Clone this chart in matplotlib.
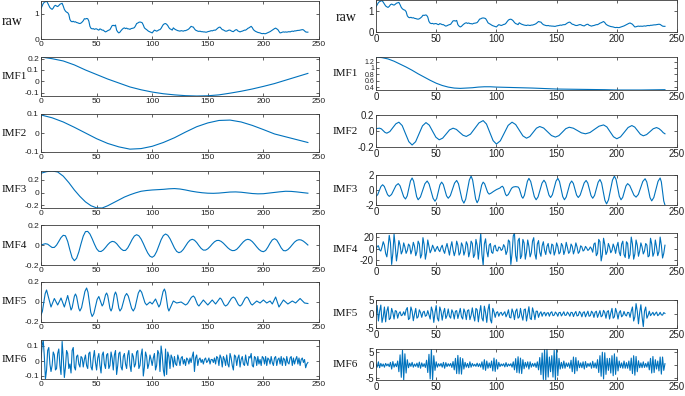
import matplotlib
matplotlib.use("Agg")
import matplotlib.pyplot as plt

# ---------------- data ----------------
raw = [1.20, 1.30, 1.40, 1.45, 1.47, 1.50, 1.42, 1.33, 1.24, 1.20,
       1.17, 1.22, 1.30, 1.33, 1.30, 1.28, 1.32, 1.37, 1.39, 1.41,
       1.30, 1.17, 1.10, 1.06, 1.04, 0.97, 0.77, 0.70, 0.68, 0.70,
       0.67, 0.68, 0.65, 0.64, 0.62, 0.61, 0.63, 0.67, 0.72, 0.80,
       0.79, 0.81, 0.80, 0.71, 0.50, 0.42, 0.40, 0.41, 0.38, 0.40,
       0.40, 0.37, 0.35, 0.40, 0.38, 0.35, 0.35, 0.31, 0.28, 0.30,
       0.33, 0.35, 0.37, 0.45, 0.53, 0.54, 0.52, 0.55, 0.35, 0.28,
       0.24, 0.27, 0.33, 0.38, 0.42, 0.44, 0.41, 0.43, 0.40, 0.40,
       0.38, 0.41, 0.42, 0.43, 0.45, 0.52, 0.61, 0.63, 0.66, 0.67,
       0.66, 0.64, 0.55, 0.44, 0.40, 0.37, 0.33, 0.30, 0.28, 0.26,
       0.24, 0.30, 0.35, 0.33, 0.31, 0.33, 0.36, 0.37, 0.42, 0.50,
       0.57, 0.60, 0.61, 0.58, 0.53, 0.45, 0.40, 0.38, 0.35, 0.44,
       0.40, 0.37, 0.35, 0.33, 0.32, 0.31, 0.33, 0.32, 0.31, 0.33,
       0.33, 0.35, 0.37, 0.40, 0.45, 0.50, 0.48, 0.47, 0.40, 0.35,
       0.33, 0.31, 0.30, 0.31, 0.29, 0.29, 0.28, 0.28, 0.27, 0.27,
       0.29, 0.30, 0.31, 0.33, 0.32, 0.34, 0.35, 0.35, 0.39, 0.43,
       0.46, 0.47, 0.42, 0.37, 0.36, 0.33, 0.31, 0.31, 0.33, 0.35,
       0.35, 0.32, 0.30, 0.29, 0.33, 0.36, 0.37, 0.32, 0.30, 0.28,
       0.30, 0.31, 0.33, 0.35, 0.35, 0.38, 0.42, 0.44, 0.47, 0.50,
       0.45, 0.37, 0.33, 0.30, 0.28, 0.26, 0.25, 0.24, 0.22, 0.21,
       0.22, 0.21, 0.21, 0.23, 0.25, 0.27, 0.29, 0.32, 0.35, 0.38,
       0.41, 0.43, 0.40, 0.37, 0.30, 0.24, 0.25, 0.27, 0.28, 0.27,
       0.28, 0.27, 0.28, 0.29, 0.28, 0.30, 0.31, 0.30, 0.32, 0.32,
       0.33, 0.34, 0.34, 0.35, 0.36, 0.37, 0.36, 0.32, 0.28, 0.27,
       0.27]

# left column (first decomposition)
L_imf1_x = [0, 10, 20, 30, 40, 50, 60, 70, 80, 90, 100, 110, 120, 130, 140,
            150, 160, 170, 180, 190, 200, 210, 220, 230, 240]
L_imf1 = [0.215, 0.20, 0.18, 0.145, 0.10, 0.06, 0.02, -0.015, -0.05, -0.075,
          -0.095, -0.11, -0.12, -0.127, -0.13, -0.128, -0.12, -0.105, -0.088,
          -0.068, -0.045, -0.02, 0.01, 0.04, 0.07]

L_imf2_x = [0, 10, 20, 30, 40, 50, 60, 70, 80, 90, 100, 110, 120, 130, 140,
            150, 160, 170, 180, 190, 200, 210, 220, 230, 240]
L_imf2 = [0.095, 0.08, 0.058, 0.03, 0.0, -0.03, -0.055, -0.073, -0.085, -0.082,
          -0.07, -0.05, -0.025, 0.005, 0.033, 0.053, 0.066, 0.068, 0.058, 0.04,
          0.018, -0.005, -0.02, -0.035, -0.05]

L_imf3_x = list(range(0, 241, 5))
L_imf3 = [0.30, 0.325, 0.335, 0.32, 0.255, 0.155, 0.04, -0.06, -0.145, -0.205,
          -0.238, -0.24, -0.205, -0.16, -0.115, -0.07, -0.035, -0.005, 0.02, 0.032,
          0.04, 0.045, 0.05, 0.058, 0.062, 0.055, 0.04, 0.022, 0.008, -0.003,
          -0.01, -0.012, -0.008, 0.0, 0.008, 0.01, 0.005, -0.005, -0.015, -0.02,
          -0.018, -0.008, 0.002, 0.012, 0.02, 0.018, 0.01, 0.0, -0.01]

L_imf4_x = list(range(0, 241, 2))
L_imf4 = [0.0, 0.007, 0.013, 0.008, -0.009, -0.025, -0.024, -0.001, 0.036, 0.074, 0.097,
          0.092, 0.036, -0.05, -0.127, -0.157,
          -0.133, -0.07, 0.013, 0.089, 0.134,
          0.136, 0.11, 0.063, 0.01, -0.037, -0.063,
          -0.065, -0.05, -0.025, 0.003, 0.025, 0.036,
          0.032, 0.014, -0.014, -0.039, -0.055,
          -0.054, -0.029, 0.012, 0.056, 0.09, 0.103,
          0.092, 0.06, 0.015, -0.035, -0.08, -0.112, -0.123,
          -0.107, -0.065, -0.007, 0.052, 0.094, 0.11,
          0.097, 0.063, 0.017, -0.03, -0.064, -0.077,
          -0.068, -0.044, -0.01, 0.024, 0.048, 0.057,
          0.048, 0.025, -0.006, -0.034, -0.051,
          -0.051, -0.038, -0.016, 0.01, 0.032, 0.045,
          0.046, 0.036, 0.018, -0.005, -0.028, -0.046, -0.056,
          -0.055, -0.043, -0.02, 0.007, 0.032, 0.05, 0.057,
          0.051, 0.034, 0.009, -0.019, -0.044, -0.061, -0.067,
          -0.055, -0.022, 0.018, 0.051, 0.063,
          0.049, 0.012, -0.029, -0.056,
          -0.058, -0.046, -0.024, 0.003, 0.029, 0.046, 0.053,
          0.05, 0.038, 0.02, 0.0]

L_imf5_x = [0, 1.25, 2.5, 3.75, 5, 9, 12, 15, 18, 21,
            24, 27, 28, 29, 30, 31, 32, 33, 34, 35,
            36.5, 38, 39.5, 41, 42.25, 43.5, 44.75, 46, 47.5, 49,
            50.5, 52, 55, 56, 57, 58, 59, 60, 61, 62,
            63, 64, 65, 66, 67, 68, 69, 70, 71, 72.5,
            74, 75.5, 77, 78.5, 80, 81.5, 83, 84.5, 86, 87.5,
            89, 90.5, 92, 93.5, 95, 98, 100, 103, 106, 107.25,
            108.5, 109.75, 111, 112, 113, 114, 115, 119, 122, 126,
            130, 131.75, 133.5, 135.25, 137, 138.25, 139.5, 140.75, 142, 146,
            150, 154, 157, 161, 162.25, 163.5, 164.75, 166, 167.75, 169.5,
            171.25, 173, 174.5, 176, 177.5, 179, 180.5, 182, 183.5, 185,
            186.25, 187.5, 188.75, 190, 194, 197, 200, 203, 206, 208,
            211, 214, 218, 222, 226, 229, 233, 237, 240]
L_imf5 = [-0.13, -0.093, -0.005, 0.083, 0.12, -0.05, 0.035, -0.03, 0.04, -0.05,
          0.065, -0.08, -0.057, 0, 0.057, 0.08, 0.055, -0.005, -0.065, -0.09,
          -0.056, 0.025, 0.106, 0.14, 0.098, -0.0025, -0.103, -0.145, -0.116, -0.045,
          0.026, 0.055, -0.04, -0.021, 0.025, 0.071, 0.09, 0.064, 0, -0.064,
          -0.09, -0.062, 0.005, 0.072, 0.10, 0.072, 0.005, -0.062, -0.09, -0.064,
          -0.0025, 0.059, 0.085, 0.059, -0.0025, -0.064, -0.09, -0.059, 0.015, 0.089,
          0.12, 0.098, 0.045, -0.008, -0.03, 0.0, -0.02, 0.03, -0.05, -0.024,
          0.04, 0.104, 0.13, 0.098, 0.02, -0.058, -0.09, 0.01, -0.01, 0.0,
          -0.03, -0.017, 0.015, 0.047, 0.06, 0.045, 0.01, -0.025, -0.04, 0.02,
          -0.03, 0.02, -0.02, 0.04, 0.028, 0, -0.028, -0.04, -0.027, 0.005,
          0.037, 0.05, 0.037, 0.005, -0.027, -0.04, -0.027, 0.005, 0.037, 0.05,
          0.038, 0.01, -0.018, -0.03, 0.01, -0.01, 0.02, -0.01, 0.01, -0.02,
          0.05, -0.05, 0.02, -0.02, 0.01, -0.01, 0.035, -0.01, -0.015]

L_imf6 = [0.02, 0.10, 0.14, 0.03, -0.12, -0.06, 0.07, 0.09, -0.02, -0.07,
          -0.03, 0.06, 0.04, -0.06, -0.05, 0.05, 0.08, -0.03, -0.09, 0.13,
          0.02, -0.11, -0.04, 0.07, 0.05, -0.05, -0.02, -0.08, 0.07, 0.09,
          -0.04, -0.06, 0.03, 0.04, -0.02, -0.04, 0.03, 0.02, -0.04, 0.01,
          0.04, -0.03, -0.05, 0.05, 0.06, -0.04, -0.06, 0.02, 0.07, -0.01,
          -0.06, 0.02, 0.05, -0.03, -0.08, 0.04, 0.06, -0.02, -0.05, 0.04,
          0.05, -0.05, -0.03, 0.06, 0.02, -0.06, 0.04, 0.07, -0.09, -0.03,
          0.05, 0.06, -0.04, -0.06, 0.03, 0.05, -0.02, -0.05, 0.04, 0.07,
          -0.03, -0.07, 0.05, 0.03, -0.04, -0.02, 0.06, 0.07, -0.05, -0.03,
          0.04, 0.08, -0.10, -0.04, 0.06, 0.03, -0.05, -0.02, 0.04, 0.01,
          -0.03, 0.02, 0.05, -0.06, -0.03, 0.07, 0.05, -0.07, 0.10, 0.04,
          -0.06, -0.10, 0.08, -0.09, 0.06, 0.03, -0.05, 0.04, 0.02, -0.04,
          0.03, -0.02, -0.03, 0.04, 0.01, -0.03, 0.02, 0.03, -0.02, 0.01,
          -0.03, 0.02, 0.01, -0.02, 0.02, -0.01, 0.03, 0.06, -0.07, 0.02,
          0.04, -0.03, 0.01, 0.02, -0.01, 0.01, -0.02, 0.01, 0.02, -0.01,
          0.0, 0.02, -0.02, 0.01, 0.01, -0.01, 0.02, -0.02, 0.03, 0.02,
          -0.03, 0.04, 0.02, -0.04, 0.03, 0.01, -0.03, 0.04, -0.02, -0.04,
          0.05, 0.02, -0.03, -0.06, 0.04, 0.03, -0.03, 0.02, 0.04, -0.04,
          0.01, 0.03, -0.02, -0.03, 0.04, -0.01, -0.03, 0.03, 0.02, 0.05,
          -0.03, -0.04, 0.03, 0.02, -0.03, 0.03, -0.02, 0.01, -0.03, 0.03,
          0.02, -0.02, 0.03, -0.03, 0.02, 0.01, -0.02, 0.03, -0.01, -0.03,
          0.02, 0.03, -0.03, 0.01, 0.02, -0.02, 0.03, -0.03, 0.02, 0.01,
          -0.03, 0.03, -0.01, -0.02, 0.02, 0.03, -0.03, 0.02, -0.02, 0.01,
          0.03, -0.02, 0.02, -0.03, 0.01, 0.02, -0.01, 0.01, -0.045, -0.02,
          -0.01]

# right column (second decomposition)
R_imf1_x = [0, 5, 10, 15, 20, 25, 30, 35, 40, 45, 50, 55, 60, 65, 70, 75, 80, 85, 90,
            95, 100, 110, 120, 130, 140, 150, 160, 170, 180, 190, 200, 210, 220, 230, 240]
R_imf1 = [1.34, 1.32, 1.28, 1.21, 1.12, 1.03, 0.93, 0.82, 0.72, 0.62, 0.53, 0.46,
          0.41, 0.38, 0.37, 0.38, 0.39, 0.41, 0.42, 0.42, 0.41, 0.40, 0.39, 0.38,
          0.365, 0.35, 0.345, 0.34, 0.335, 0.33, 0.32, 0.32, 0.32, 0.325, 0.33]

R_imf2_x = [0, 3, 4.5, 6, 7.5, 9, 11.5, 14, 16.5, 19, 21.75, 24.5, 27.25, 30,
            32.9, 35.75, 38.6, 41.5, 44.25, 47, 49.75, 52.5, 55.4, 58.25, 61.1, 64,
            66.75, 69.5, 72.25, 75, 78.5, 82, 85.5, 89, 91.75, 94.5, 97.25, 100,
            103.25, 106.5, 109.75, 113, 116, 119, 122, 125, 127.75, 130.5, 133.25, 136,
            139.25, 142.5, 145.75, 149, 151.9, 154.75, 157.6, 160.5, 163.9, 167.25,
            170.6, 174, 177.75, 181.5, 185.25, 189, 191.75, 194.5, 197.25, 200,
            203.1, 206.25, 209.4, 212.5, 214.9, 217.25, 219.6, 222, 224.75, 227.5,
            230.25, 233, 235, 237, 238.5, 240]
R_imf2 = [0.03, 0.035, 0.026, 0.004, -0.018, -0.027, -0.007, 0.042, 0.09, 0.11,
          0.068, -0.033, -0.133, -0.175, -0.134, -0.035, 0.064, 0.105, 0.073, -0.003,
          -0.078, -0.11, -0.089, -0.038, 0.014, 0.035, 0.02, -0.017, -0.053, -0.068,
          -0.039, 0.031, 0.101, 0.13, 0.087, -0.017, -0.12, -0.163, -0.123, -0.027,
          0.07, 0.11, 0.081, 0.01, -0.061, -0.09, -0.069, -0.017, 0.035, 0.056,
          0.037, -0.01, -0.057, -0.076, -0.058, -0.015, 0.029, 0.047, 0.035, 0.006,
          -0.023, -0.035, -0.019, 0.021, 0.06, 0.076, 0.051, -0.011, -0.072, -0.097,
          -0.073, -0.015, 0.044, 0.068, 0.049, 0.004, -0.041, -0.06, -0.045, -0.009,
          0.028, 0.043, 0.03, 0.005, -0.02, -0.035]

R_imf3_x = [0, 1.4, 2.75, 4.1, 5.5, 6.9, 8.25, 9.6, 11, 12.9,
            14.75, 16.6, 18.5, 20, 21.5, 23, 24.5, 25.9, 27.25, 28.6,
            30, 31.25, 32.5, 33.75, 35, 36.9, 38.75, 40.6, 42.5, 44.1,
            45.75, 47.4, 49, 50.4, 51.75, 53.1, 54.5, 55.9, 57.25, 58.6,
            60, 61.75, 63.5, 65.25, 67, 68.5, 70, 71.5, 73, 74.5,
            76, 77.5, 79, 80.25, 81.5, 82.75, 84, 85.25, 86.5, 87.75,
            89, 90.25, 91.5, 92.75, 94, 95.75, 97.5, 100, 103, 104,
            105, 105.9, 106.75, 107.6, 108.5, 109.9, 111.25, 112.6, 114, 116,
            118, 119, 120, 121, 122, 123.25, 124.5, 125.75, 127, 128.5,
            130, 131.5, 133, 134.6, 136.25, 137.9, 139.5, 140.9, 142.25, 143.6,
            145, 146.5, 148, 149.5, 151, 152.4, 153.75, 155.1, 156.5, 158,
            159.5, 161, 162.5, 163.9, 165.25, 166.6, 168, 169.6, 171.25, 172.9,
            174.5, 175.9, 177.25, 178.6, 180, 181.5, 183, 184.5, 186, 187.4,
            188.75, 190.1, 191.5, 193.1, 194.75, 196.4, 198, 199.4, 200.75, 202.1,
            203.5, 204.9, 206.25, 207.6, 209, 210.75, 212.5, 214.25, 216, 217.9,
            219.75, 221.6, 223.5, 224.9, 226.25, 227.6, 229, 230.75, 232.5, 234.25,
            236, 237, 238, 239, 240]
R_imf3 = [-0.85, -0.62, -0.075, 0.47, 0.7, 0.47, -0.075, -0.62, -0.85, -0.6,
          0, 0.6, 0.85, 0.55, -0.175, -0.9, -1.2, -0.79, 0.2, 1.19,
          1.6, 1.18, 0.15, -0.88, -1.3, -0.93, -0.05, 0.83, 1.2, 0.80,
          -0.15, -1.10, -1.5, -1.13, -0.225, 0.68, 1.05, 0.735, -0.025, -0.785,
          -1.1, -0.75, 0.085, 0.92, 1.27, 0.83, -0.24, -1.31, -1.75, -1.22,
          0.05, 1.32, 1.85, 1.33, 0.075, -1.18, -1.7, -1.30, -0.325, 0.65,
          1.05, 0.82, 0.25, -0.32, -0.55, -0.4, -0.2, 0.05, 0.27, 0.42,
          0.5, 0.31, -0.135, -0.58, -0.77, -0.6, -0.185, 0.23, 0.4, 0.45,
          0.4, 0.18, -0.35, -0.88, -1.1, -0.71, 0.225, 1.16, 1.55, 1.13,
          0.125, -0.88, -1.3, -0.92, 0, 0.92, 1.3, 0.96, 0.15, -0.66,
          -1.0, -0.63, 0.275, 1.18, 1.55, 1.13, 0.125, -0.88, -1.3, -0.93,
          -0.05, 0.83, 1.2, 0.88, 0.1, -0.68, -1.0, -0.67, 0.135, 0.94,
          1.27, 0.92, 0.085, -0.75, -1.1, -0.73, 0.15, 1.03, 1.4, 0.92,
          -0.225, -1.37, -1.85, -1.31, 0, 1.31, 1.85, 1.39, 0.275, -0.84,
          -1.3, -0.985, -0.225, 0.535, 0.85, 0.59, -0.05, -0.69, -0.95, -0.59,
          0.275, 1.14, 1.5, 1.07, 0.025, -1.02, -1.45, -1.0, 0.075, 1.15,
          1.6, 1.07, -0.2, -1.47, -2.0]

R_imf4 = [0, 4, 5, -2, -4, 3, 12, 6, -8, -14,
          2, 23, 10, -27, -8, 25, 4, -21, -6, 14,
          6, -9, -4, 10, 3, -8, -3, 8, 5, -9,
          -2, 11, 4, -12, -5, 13, 8, -16, -10, 19,
          7, -18, -6, 15, 4, -7, -2, 6, 1, -5,
          0, 4, -2, -5, 2, 6, -3, -8, 2, 9,
          -1, -11, 3, 12, -2, -12, -4, 13, 6, -11,
          -7, 10, 5, -11, -4, 12, 7, -14, -5, 13,
          9, -15, -10, 16, 6, -18, 5, 26, -10, -28,
          8, 17, -4, -14, 6, 9, -6, -8, 4, 6,
          -3, -4, 3, 2, -3, -1, 7, 3, -10, -4,
          15, 12, -27, -8, 22, 27, -12, -22, 14, 18,
          -17, -12, 16, 10, -18, -6, 15, 4, -14, -7,
          13, 19, -9, -18, 8, 14, -6, -13, 5, 12,
          -3, -10, 4, 9, -5, -9, 8, 6, -11, -4,
          10, 4, -9, -6, 9, 5, -10, -3, 11, 2,
          -8, -5, 8, 4, -9, -2, 10, 3, -8, -5,
          5, 3, -4, -2, 4, 1, -3, -1, 3, 0,
          -6, 8, 10, -12, -8, 16, 12, -21, -10, 18,
          7, -10, -5, 9, 3, -7, -3, 8, 2, -8,
          4, 11, -6, -12, 8, 13, -10, -15, 12, 9,
          -17, -10, 20, 8, -18, -9, 15, 6, -13, -4,
          10, 3, -9, -4, 9, 6, -14, -12, 18, 8,
          -13, -7, 15, 3, -12, -5, 20, 6, -16, -8,
          6]

R_imf5 = [0, 3, -2.5, 1, 3.2, -3, -1, 2.5, -2.8, 1,
          2.6, -2, -1.5, 2, 0.5, -1.8, 1.2, 1, -1.5, 0.2,
          0.8, -0.6, -0.3, 0.8, -0.5, 1.5, 2.3, -2, -1.5, 2.5,
          1, -2.4, 0, 2, -1.5, -1, 1.5, 0.5, -1.2, 0.6,
          1, -0.8, -0.5, 1.2, -0.3, -1.8, 2.5, 1, -3, 0.5,
          3, -1.5, -2.5, 2.5, 1, -2.2, 0.5, 2, -1.6, -0.5,
          1.8, -0.8, -1.5, 1.5, 0.5, -1.8, 1, 1.2, -1.6, 0.2,
          2, -1, -1.8, 1.8, 0.6, -2, 1.2, 1.5, -2, -0.5,
          2.2, -0.6, -2.5, 2, 1.5, -2.8, 0.5, 3, -1.5, -2.5,
          2.8, 0.5, -3, 1.5, 3.5, -2, -3.2, 2, 0.8, -1.2,
          0.5, 0.8, -0.8, 0.3, 0.6, -0.5, 0.2, 0.8, -1, 0,
          1.5, -1.2, -1.4, 1.8, 0.5, -2, 1, 1.8, -1.5, -1,
          2, -0.5, -2.2, 1.5, 1.8, -2.5, 0, 2.6, -1.5, -2,
          2.2, 0.5, -2, 1, 1, -1.2, 0.2, 0.8, -0.8, 0.3,
          0.6, -0.7, 0.3, 0.5, -0.8, 0.4, 0.8, -0.6, -0.4, 0.7,
          0.2, -0.8, 0.5, 0.6, -0.7, 0, 0.8, -0.5, -0.4, 0.7,
          0.1, -0.8, 0.6, 0.5, -0.9, 0.2, 0.9, -0.7, -0.5, 0.9,
          0.3, -1, 0.5, 0.8, -1, 0, 1, -0.8, -0.6, 1,
          0.4, -1.2, 0.6, 1, -1.2, 0, 1.2, -1, -0.6, 1.3,
          0.5, -1.5, 0.8, 1.2, -1.8, 0.3, 2, -1.5, -1, 2,
          0.5, -1.8, 0.5, 1.2, -1, -0.5, 0.9, -0.3, -0.7, 0.6,
          0.5, -1.2, 1, 2.5, -2.5, -1, 3.7, 1, -3.5, 0.5,
          3.3, -1, -4.5, 1, 2.5, -1.5, -0.5, 1, -0.6, 0,
          0.6, -0.5, 0.2, 0.7, -0.6, -0.2, 0.6, -0.3, -0.4, 0.5,
          0.2]

R_imf6 = [0.3, -0.8, 1.2, -1, 0.6, -0.5, 0.4, -0.8, 0.6, -0.3,
          0.4, -0.6, 1, -1.5, 1.3, -0.8, 0.5, -0.6, 1.5, -2.5,
          3.8, -4.6, 5.5, -5.6, 4.2, -3, 2, -1, 0.7, -0.5,
          1, -0.8, 0.4, -0.5, 0.7, -0.9, 1.1, -1.2, 0.8, -0.6,
          0.5, -0.9, 1.8, -2.8, 4, -5.2, 5.9, -5.5, 3.5, -2,
          1.2, -0.8, 0.5, -0.4, 0.6, -0.8, 1, -1.2, 0.9, -0.6,
          0.5, -0.4, 0.6, -0.9, 1.3, -1.8, 2.5, -3.2, 3.6, -3.3,
          2.8, -3.4, 2.4, -1.5, 1, -0.8, 0.6, -1, 1.2, -0.8,
          0.6, -0.4, 0.3, -0.5, 0.7, -0.6, 0.5, -0.8, 1.2, -1.6,
          2, -2, 1.5, -1.2, 0.8, -1, 1.5, -2.2, 2.6, -2.4,
          2, -1.5, 1, -0.6, 0.4, -0.3, 0.5, -0.7, 0.9, -0.6,
          0.4, -0.3, 0.5, -0.8, 1.2, -1.8, 2.4, -2.8, 3.1, -3,
          2.6, -3.2, 2, -1.4, 1, -0.8, 1.2, -1.5, 1.2, -0.8,
          0.6, -0.5, 0.7, -0.9, 1.2, -1.8, 2.8, -3.6, 4.5, -5.4,
          5.8, -5.6, 6, -4.5, 3, -2.5, 3.5, -4.5, 5.5, -5.6,
          5.8, -4, 2.5, -1.5, 1, -1.2, 1.5, -1.2, 0.8, -0.6,
          0.8, -1.2, 1.8, -2.5, 3, -3.2, 2.8, -2.2, 1.6, -1,
          0.8, -1, 1.2, -1.5, 1.3, -0.9, 0.6, -0.5, 0.8, -1.2,
          1.4, -1, 0.8, -1.2, 2, -2.8, 3.5, -4.2, 4.8, -5.2,
          4.6, -3.5, 2.5, -2, 2.5, -3, 3.5, -4, 4.2, -3.5,
          3, -2.2, 1.5, -1, 0.8, -1.2, 1.5, -1.2, 0.9, -1.2,
          1.5, -2, 2.6, -3.2, 3.5, -3.8, 3.2, -2.5, 1.6, -1,
          0.8, -1, 1.2, -0.9, 0.6, -0.8, 1.2, -1.8, 2.5, -3,
          3.2, -2.8, 2, -1.5, 1.5, -2.2, 3, -3.4, 3, -2,
          0.5]

row_labels = ["raw", "IMF1", "IMF2", "IMF3", "IMF4", "IMF5", "IMF6"]
x_ticks = [0, 50, 100, 150, 200, 250]


def idx(vals):
    return list(range(len(vals)))


left_series = [
    (idx(raw), raw, (0, 1.5), [0, 1], None),
    (L_imf1_x, L_imf1, (min(L_imf1), max(L_imf1)), [-0.1, 0, 0.1, 0.2], None),
    (L_imf2_x, L_imf2, (-0.1, 0.1), [-0.1, 0, 0.1], None),
    (L_imf3_x, L_imf3, (min(L_imf3), max(L_imf3)), [-0.2, 0, 0.2], None),
    (L_imf4_x, L_imf4, (-0.2, 0.2), [-0.2, 0, 0.2], None),
    (L_imf5_x, L_imf5, (-0.2, 0.2), [-0.2, 0, 0.2], None),
    (idx(L_imf6), L_imf6, (min(L_imf6), max(L_imf6)), [-0.1, 0, 0.1], None),
]
right_series = [
    (idx(raw), raw, (0, 1.5), [0, 1], None),
    (R_imf1_x, R_imf1, (min(R_imf1), max(R_imf1)), [0.4, 0.6, 0.8, 1, 1.2], 5.0),
    (R_imf2_x, R_imf2, (-0.2, 0.2), [-0.2, 0, 0.2], None),
    (R_imf3_x, R_imf3, (-2, 2), [-2, 0, 2], None),
    (idx(R_imf4), R_imf4, (min(R_imf4), max(R_imf4)), [-20, 0, 20], None),
    (idx(R_imf5), R_imf5, (-5, 5), [-5, 0, 5], None),
    (idx(R_imf6), R_imf6, (min(R_imf6), max(R_imf6)), [-5, 0, 5], None),
]

# ---------------- layout ----------------
W, H = 685, 396
fig = plt.figure(figsize=(W / 100, H / 100), dpi=100)

left_rows = [(1, 39), (57, 96), (114, 152), (171, 208), (225, 265), (282, 322), (340, 379)]
right_rows = [(0.5, 32), (57, 90), (115, 147), (175, 205), (233, 265), (300, 328), (349, 380)]
cols = [
    dict(l=41, r=319, rows=left_rows, series=left_series, tick_fs=6.0, lab_x=27, raw_x=2, raw_ha="left"),
    dict(l=376, r=677, rows=right_rows, series=right_series, tick_fs=7.0, lab_x=358, raw_x=357, raw_ha="right"),
]

LINE = "#0072BD"
EDGE = "#3a3a3a"
tick_font = ["Liberation Sans Narrow", "Liberation Sans", "DejaVu Sans"]
label_font = ["Liberation Serif", "DejaVu Serif"]

for col in cols:
    for i, ((top, bot), (xs, ys, ylim, yt, yfs)) in enumerate(zip(col["rows"], col["series"])):
        ax = fig.add_axes([col["l"] / W, 1 - bot / H, (col["r"] - col["l"]) / W, (bot - top) / H])
        ax.plot(xs, ys, color=LINE, lw=0.8)
        ax.set_xlim(0, 250)
        ax.set_ylim(*ylim)
        ax.set_xticks(x_ticks)
        ax.set_yticks(yt)
        ax.set_xticklabels([str(t) for t in x_ticks], family=tick_font)
        ax.set_yticklabels([f"{t:g}" for t in yt], family=tick_font)
        ax.tick_params(direction="in", top=True, right=True, length=2.5, width=0.5,
                       labelsize=col["tick_fs"], pad=1.5, colors="#222222")
        if yfs is not None:
            ax.tick_params(axis="y", labelsize=yfs, pad=1.0)
        for s in ax.spines.values():
            s.set_color(EDGE)
            s.set_linewidth(0.6)
        yc = 1 - (top + bot) / 2 / H
        if i == 0:
            fig.text(col["raw_x"] / W, yc - 0.004, row_labels[i], ha=col["raw_ha"], va="center",
                     family=label_font, fontsize=10, color="#111111")
        else:
            fig.text(col["lab_x"] / W, yc, row_labels[i], ha="right", va="center",
                     family=label_font, fontsize=8, color="#111111")

fig.savefig("out.png", dpi=100)
